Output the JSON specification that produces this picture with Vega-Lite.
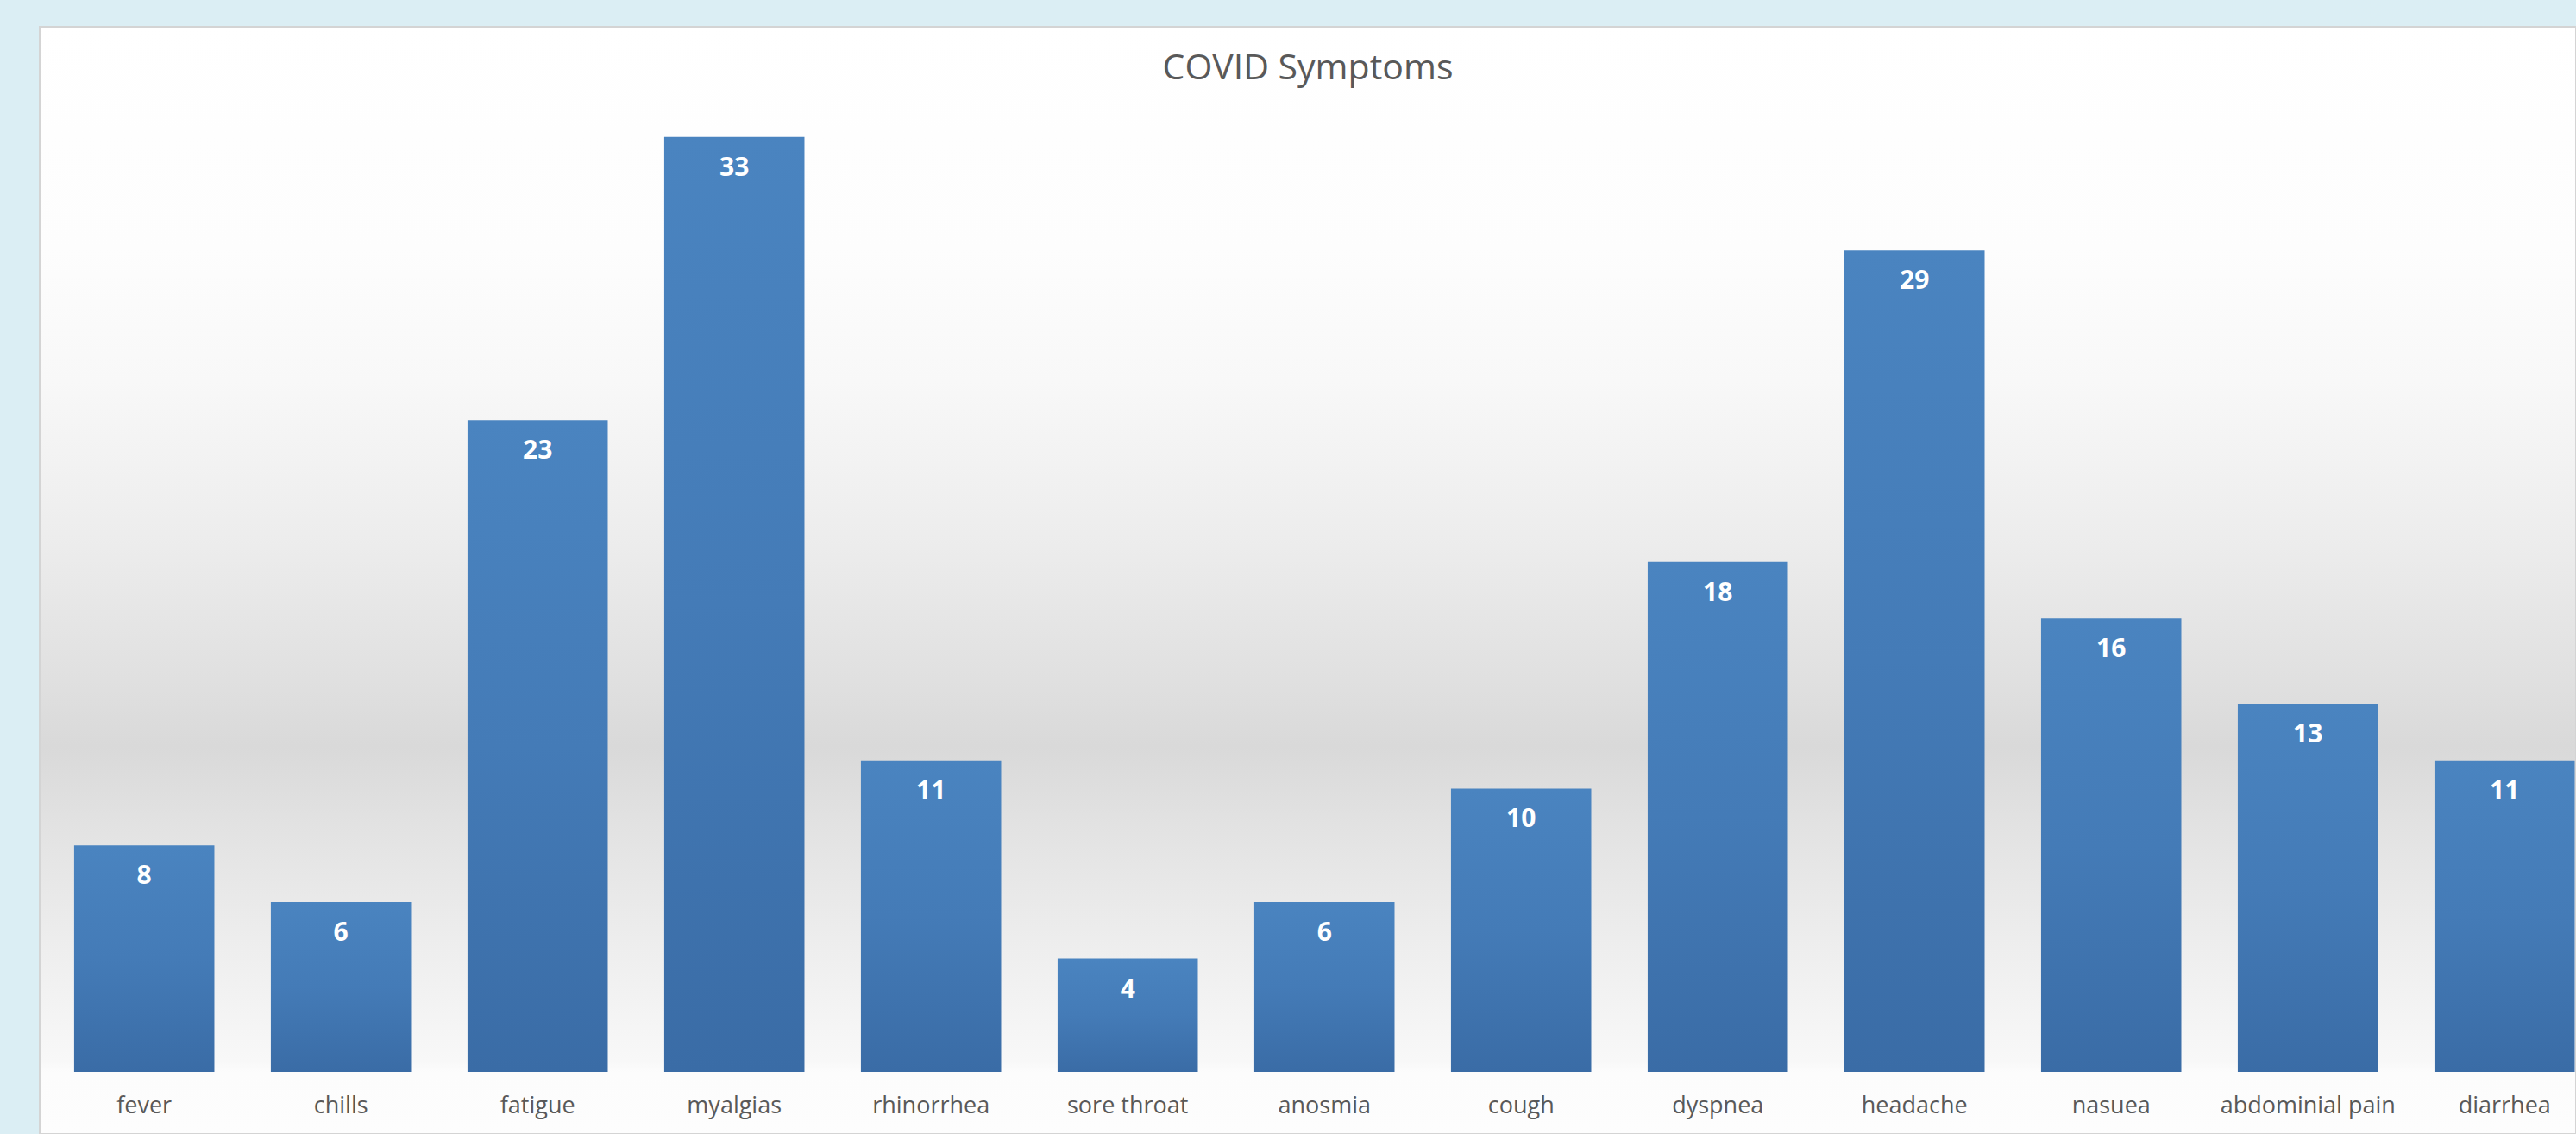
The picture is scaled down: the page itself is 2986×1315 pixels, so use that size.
{
  "$schema": "https://vega.github.io/schema/vega-lite/v6.json",
  "autosize": "none",
  "padding": {"left": 46, "top": 31, "right": 0, "bottom": 0},
  "width": 2940,
  "height": 1284,
  "background": "#dbeef4",
  "config": {
    "view": {
      "stroke": "#d4d4d4",
      "strokeWidth": 2,
      "fill": {
        "gradient": "linear", "x1": 0, "y1": 0, "x2": 0, "y2": 1,
        "stops": [
          {"offset": 0, "color": "#ffffff"},
          {"offset": 0.2, "color": "#fdfdfd"},
          {"offset": 0.32, "color": "#f8f8f8"},
          {"offset": 0.47, "color": "#ececec"},
          {"offset": 0.59, "color": "#e0e0e0"},
          {"offset": 0.65, "color": "#d9d9d9"},
          {"offset": 0.72, "color": "#e2e2e2"},
          {"offset": 0.833, "color": "#eeeeee"},
          {"offset": 0.934, "color": "#f8f8f8"},
          {"offset": 0.944, "color": "#fcfcfc"},
          {"offset": 1, "color": "#fdfdfd"}
        ]
      }
    }
  },
  "title": {
    "text": "COVID Symptoms",
    "font": "Open Sans",
    "fontSize": 41,
    "fontWeight": "normal",
    "color": "#595959",
    "anchor": "middle",
    "baseline": "alphabetic",
    "offset": -102
  },
  "data": {
    "values": [
      {"symptom": "fever", "count": 8},
      {"symptom": "chills", "count": 6},
      {"symptom": "fatigue", "count": 23},
      {"symptom": "myalgias", "count": 33},
      {"symptom": "rhinorrhea", "count": 11},
      {"symptom": "sore throat", "count": 4},
      {"symptom": "anosmia", "count": 6},
      {"symptom": "cough", "count": 10},
      {"symptom": "dyspnea", "count": 18},
      {"symptom": "headache", "count": 29},
      {"symptom": "nasuea", "count": 16},
      {"symptom": "abdominial pain", "count": 13},
      {"symptom": "diarrhea", "count": 11}
    ]
  },
  "encoding": {
    "x": {
      "field": "symptom",
      "type": "nominal",
      "sort": null,
      "scale": {"paddingInner": 0.287, "paddingOuter": 0.0908, "align": 0.964},
      "axis": {
        "title": null,
        "orient": "bottom",
        "offset": -72,
        "domain": false,
        "ticks": false,
        "labelAngle": 0,
        "labelLimit": 0,
        "labelFont": "Open Sans",
        "labelFontSize": 27,
        "labelColor": "#595959",
        "labelBaseline": "middle",
        "labelPadding": 39
      }
    },
    "y": {
      "field": "count",
      "type": "quantitative",
      "scale": {"domain": [-2.19, 36.89], "nice": false, "zero": false},
      "axis": null
    }
  },
  "layer": [
    {
      "mark": {
        "type": "bar",
        "color": {
          "gradient": "linear", "x1": 0, "y1": 0, "x2": 0, "y2": 1,
          "stops": [
            {"offset": 0, "color": "#4a84c0"},
            {"offset": 0.5, "color": "#447bb7"},
            {"offset": 1, "color": "#3a6ca6"}
          ]
        }
      }
    },
    {
      "mark": {
        "type": "text",
        "font": "Open Sans",
        "fontSize": 30,
        "fontWeight": "bold",
        "color": "#ffffff",
        "baseline": "middle",
        "dy": 36
      },
      "encoding": {"text": {"field": "count", "type": "quantitative"}}
    }
  ]
}
